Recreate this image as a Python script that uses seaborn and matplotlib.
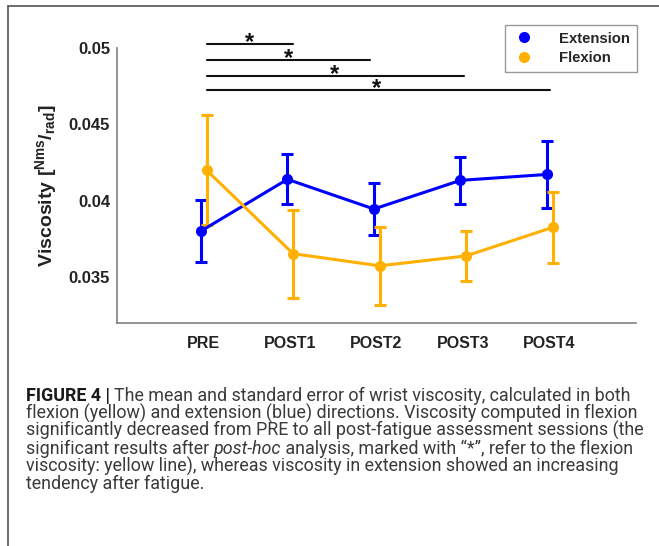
import matplotlib
matplotlib.use("Agg")
import matplotlib.pyplot as plt
from matplotlib.lines import Line2D
import seaborn as sns
import pandas as pd
import numpy as np

SESSIONS = ["PRE", "POST1", "POST2", "POST3", "POST4"]
EXT_MEAN = [0.0380, 0.04140, 0.03945, 0.04133, 0.04172]
EXT_SE = [0.00205, 0.00165, 0.00172, 0.00155, 0.00220]
FLEX_MEAN = [0.04200, 0.03652, 0.03572, 0.03637, 0.03824]
FLEX_SE = [0.00363, 0.00288, 0.00255, 0.00162, 0.00232]

# significance bars: (start, end, height, star x)
SIG_START = [1.035, 1.035, 1.035, 1.035]
SIG_END = [2.04, 2.93, 4.01, 5.0]
SIG_Y = [0.05026, 0.04922, 0.04821, 0.04723]
SIG_STAR_X = [1.53, 1.98, 2.51, 3.0]

CAPTION = [
    [("FIGURE 4 | ", "bold", "normal"),
     ("The mean and standard error of wrist viscosity, calculated in both", "normal", "normal")],
    [("flexion (yellow) and extension (blue) directions. Viscosity computed in flexion", "normal", "normal")],
    [("significantly decreased from PRE to all post-fatigue assessment sessions (the", "normal", "normal")],
    [("significant results after ", "normal", "normal"), ("post-hoc", "normal", "italic"),
     (" analysis, marked with \u201c*\u201d, refer to the flexion", "normal", "normal")],
    [("viscosity: yellow line), whereas viscosity in extension showed an increasing", "normal", "normal")],
    [("tendency after fatigue.", "normal", "normal")],
]
# right end (px) of each caption line in the reference, used to pick the font size
CAPTION_ENDS = [645, 628, 641, 638, 619]

BLUE = "#0000FF"
ORANGE = "#FFB000"
GRAY = "#808080"

sns.set_style("white")
plt.rcParams["font.family"] = ["Liberation Sans", "DejaVu Sans"]
plt.rcParams["mathtext.fontset"] = "custom"
plt.rcParams["mathtext.rm"] = "Liberation Sans:bold"
plt.rcParams["mathtext.it"] = "Liberation Sans:bold"
plt.rcParams["mathtext.bf"] = "Liberation Sans:bold"

W, H = 659, 546
fig = plt.figure(figsize=(W / 100, H / 100), dpi=100)
ax = fig.add_axes([117 / W, 1 - 322.5 / H, (636 - 117) / W, (322.5 - 48.3) / H])

pos = np.arange(1, len(SESSIONS) + 1)
df = pd.concat([
    pd.DataFrame({"x": pos - 0.03, "Viscosity": EXT_MEAN, "se": EXT_SE, "Direction": "Extension"}),
    pd.DataFrame({"x": pos + 0.035, "Viscosity": FLEX_MEAN, "se": FLEX_SE, "Direction": "Flexion"}),
])
palette = {"Extension": BLUE, "Flexion": ORANGE}

for name, d in df.groupby("Direction"):
    ax.errorbar(d["x"], d["Viscosity"], yerr=d["se"], fmt="none", ecolor=palette[name],
                elinewidth=2.2, capsize=4.5, capthick=2.2, zorder=2)

sns.lineplot(data=df, x="x", y="Viscosity", hue="Direction", palette=palette,
             marker="o", markersize=8, markeredgewidth=0, linewidth=2.2,
             legend=False, ax=ax, zorder=3, sort=False)

ax.set_xlim(0, 6)
ax.set_ylim(0.032, 0.05)
ax.set_xticks(pos)
ax.set_xticklabels(SESSIONS, fontsize=11.5, fontweight="bold")
ax.set_yticks([0.035, 0.04, 0.045, 0.05])
ax.set_yticklabels(["0.035", "0.04", "0.045", "0.05"], fontsize=12, fontweight="bold")
ax.tick_params(axis="both", direction="in", length=5, width=1, color=GRAY, pad=5,
               labelcolor="#222222")
ax.tick_params(axis="x", pad=10)
for s in ["top", "right"]:
    ax.spines[s].set_visible(False)
for s in ["left", "bottom"]:
    ax.spines[s].set_color(GRAY)
    ax.spines[s].set_linewidth(1.2)
ax.set_xlabel("")
ax.set_ylabel(r"Viscosity $[^{\mathrm{Nms}}/_{\mathrm{rad}}]$",
              fontsize=14, fontweight="bold", color="#222222", labelpad=7)

for x0, x1, y, sx in zip(SIG_START, SIG_END, SIG_Y, SIG_STAR_X):
    ax.plot([x0, x1], [y, y], color="#111111", linewidth=1.5, clip_on=False)
    ax.text(sx, y + 0.0001, "*", fontsize=17, fontweight="bold", ha="center",
            va="center", color="#111111", clip_on=False)

handles = [Line2D([], [], linestyle="none", marker="o", markersize=8,
                  markerfacecolor=c, markeredgewidth=0) for c in (BLUE, ORANGE)]
leg = fig.legend(handles, ["Extension", "Flexion"], loc="upper right",
                 bbox_to_anchor=(637 / W, 1 - 25 / H), frameon=True, fancybox=False,
                 prop={"weight": "bold", "size": 10.7}, handletextpad=1.6,
                 borderpad=0.45, labelspacing=0.35, handlelength=1.6, borderaxespad=0)
leg.get_frame().set_edgecolor(GRAY)
leg.get_frame().set_linewidth(1.0)

# outer frame lines (top and left)
fig.add_artist(Line2D([8 / W, 1], [1 - 6 / H, 1 - 6 / H], color="#555555", linewidth=1.2))
fig.add_artist(Line2D([8 / W, 8 / W], [0, 1 - 6 / H], color="#555555", linewidth=1.2))

# caption
cap_family = ["Roboto", "Liberation Sans", "DejaVu Sans"]
renderer = fig.canvas.get_renderer()


def line_width(runs, size):
    total = 0
    for txt, weight, style in runs:
        t = fig.text(0, 0, txt, fontsize=size, fontweight=weight, fontstyle=style,
                     family=cap_family)
        total += t.get_window_extent(renderer).width
        t.remove()
    return total


ratios = [(end - 26) / line_width(runs, 12.0) for runs, end in zip(CAPTION, CAPTION_ENDS)]
size = 12.0 * np.median(ratios)

baseline = 401
for runs in CAPTION:
    x = 26
    for txt, weight, style in runs:
        color = "#1a1a1a" if weight == "bold" else "#3a3a3a"
        t = fig.text(x / W, 1 - baseline / H, txt, fontsize=size, fontweight=weight,
                     fontstyle=style, family=cap_family, color=color, va="baseline")
        x += t.get_window_extent(renderer).width
    baseline += 17.6

fig.savefig("out.png", dpi=100)
